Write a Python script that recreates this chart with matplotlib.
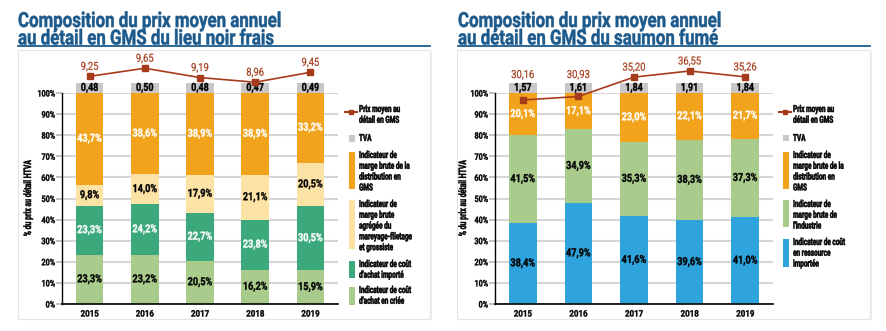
import matplotlib
matplotlib.use('Agg')
import matplotlib.pyplot as plt
from matplotlib.patches import Rectangle
from matplotlib.lines import Line2D
from matplotlib.transforms import Affine2D, blended_transform_factory
from matplotlib.patheffects import AbstractPathEffect

W, H = 887, 331

years = ['2015', '2016', '2017', '2018', '2019']

# lieu noir frais
ln_criee = [23.3, 23.2, 20.5, 16.2, 15.9]
ln_importe = [23.3, 24.2, 22.7, 23.8, 30.5]
ln_mareyage = [9.8, 14.0, 17.9, 21.1, 20.5]
ln_distrib = [43.7, 38.6, 38.9, 38.9, 33.2]
ln_tva = [0.48, 0.50, 0.48, 0.47, 0.49]
ln_prix = [9.25, 9.65, 9.19, 8.96, 9.45]

# saumon fumé
sf_ressource = [38.4, 47.9, 41.6, 39.6, 41.0]
sf_industrie = [41.5, 34.9, 35.3, 38.3, 37.3]
sf_distrib = [20.1, 17.1, 23.0, 22.1, 21.7]
sf_tva = [1.57, 1.61, 1.84, 1.91, 1.84]
sf_prix = [30.16, 30.93, 35.20, 36.55, 35.26]

ORANGE = '#F2A31C'
JAUNE = '#FDE2A6'
TEAL = '#3CA97D'
VERT = '#A9CC8D'
BLEU = '#2FA3DC'
GRIS = '#C8C8C8'
BRIQUE = '#A53B1B'
TITRE = '#1D5A8C'

plt.rcParams['font.family'] = ['Roboto', 'DejaVu Sans']


class Squeeze(AbstractPathEffect):
    """Narrow the glyphs horizontally (condensed look), optionally thickened."""

    def __init__(self, sx, anchor='left', stroke=0.0):
        super().__init__()
        self.sx = sx
        self.anchor = anchor
        self.stroke = stroke

    def draw_path(self, renderer, gc, tpath, affine, rgbFace=None):
        ext = tpath.get_extents()
        if self.anchor == 'center':
            cx = (ext.x0 + ext.x1) / 2
        elif self.anchor == 'right':
            cx = ext.x1
        else:
            cx = 0
        pre = Affine2D().translate(-cx, 0).scale(self.sx, 1).translate(cx, 0)
        if self.stroke and rgbFace is not None:
            gc0 = renderer.new_gc()
            gc0.copy_properties(gc)
            gc0.set_linewidth(self.stroke)
            gc0.set_foreground(rgbFace)
            gc0.set_joinstyle('round')
            renderer.draw_path(gc0, tpath, pre + affine, rgbFace)
            gc0.restore()
        else:
            renderer.draw_path(gc, tpath, pre + affine, rgbFace)


def sq(sx, anchor='left', stroke=0.0):
    return [Squeeze(sx, anchor, stroke)]


def fx(px):
    return px / W


def fy(py):
    return 1 - py / H


def fmt(v, pct=False):
    s = f'{v:.1f}' if pct else f'{v:.2f}'
    s = s.replace('.', ',')
    return s + '%' if pct else s


fig = plt.figure(figsize=(W / 100, H / 100), dpi=100)
fig.patch.set_facecolor('white')


def panel(x0, x1, y0, y1):
    fig.patches.append(Rectangle((fx(x0) + 0.002, fy(y1) - 0.004), fx(x1 - x0), fy(y0) - fy(y1),
                                 transform=fig.transFigure, facecolor='#EFEFEF',
                                 edgecolor='none', zorder=-2))
    fig.patches.append(Rectangle((fx(x0), fy(y1)), fx(x1 - x0), fy(y0) - fy(y1),
                                 transform=fig.transFigure, facecolor='white',
                                 edgecolor='#E4E4E4', lw=0.8, zorder=-1))


def title(x, x_end, line1, line2):
    for s, yb in ((line1, 27), (line2, 44.5)):
        fig.text(fx(x), fy(yb), s, ha='left', va='baseline', fontsize=15,
                 fontweight='bold', color=TITRE, path_effects=sq(0.81, stroke=0.35))
    fig.add_artist(Line2D([fx(x), fx(x_end)], [fy(45.5), fy(45.5)], color=TITRE, lw=1.3))


def chart(left_px, width_px, segments, tva, prix, plo, phi, ylab_x):
    ax = fig.add_axes([fx(left_px), fy(304), fx(width_px), 211 / H])
    ax.patch.set_alpha(0)
    x = list(range(len(years)))
    bottom = [0.0] * len(years)
    for vals, color, tcol in segments:
        ax.bar(x, vals, 0.5, bottom=bottom, color=color, zorder=2)
        for i, v in enumerate(vals):
            ax.text(i, min(bottom[i] + v / 2, 99), fmt(v, True), ha='center', va='center',
                    fontsize=8, fontweight='bold', color=tcol, zorder=4,
                    path_effects=sq(0.82, 'center', 0.25))
        bottom = [b + v for b, v in zip(bottom, vals)]

    # TVA band above the 100 % line
    band = 4.7
    ax.bar(x, [band] * len(x), 0.5, bottom=100, color=GRIS, zorder=2, clip_on=False)
    for i, v in enumerate(tva):
        ax.text(i, 100 + band / 2, fmt(v), ha='center', va='center', fontsize=8,
                fontweight='bold', color='black', zorder=4, clip_on=False,
                path_effects=sq(0.8, 'center', 0.25))

    ax.set_xlim(-0.5, len(years) - 0.5)
    ax.set_ylim(0, 100)
    ax.set_yticks(range(0, 101, 10))
    ax.set_yticklabels([f'{t}%' for t in range(0, 101, 10)])
    ax.set_xticks(x)
    ax.set_xticklabels(years)
    ax.grid(axis='y', color='#D6D6D6', lw=1.5, zorder=0)
    ax.set_axisbelow(True)
    for s in ('top', 'right'):
        ax.spines[s].set_visible(False)
    ax.spines['left'].set_linewidth(1.0)
    ax.spines['bottom'].set_linewidth(1.2)
    ax.tick_params(axis='y', length=4, color='#B8B8B8', width=1.2, pad=1, labelsize=6.5)
    ax.tick_params(axis='x', length=0, pad=4, labelsize=6.5)
    for lab in ax.get_yticklabels():
        lab.set_fontweight('bold')
        lab.set_path_effects(sq(0.8, 'right', 0.25))
    for lab in ax.get_xticklabels():
        lab.set_fontweight('bold')
        lab.set_path_effects(sq(0.88, 'center', 0.25))
    ax.set_ylabel('% du prix au détail HTVA', fontsize=7.5, fontweight='bold',
                  path_effects=sq(0.66, 'center', 0.3))
    ax.yaxis.set_label_coords(ylab_x, 0.5)

    # average retail price on its own scale
    ax2 = ax.twinx()
    ax2.set_ylim(plo, phi)
    ax2.axis('off')
    ax2.plot(x, prix, color=BRIQUE, lw=1.2, marker='s', ms=5, zorder=5, clip_on=False)
    tr = blended_transform_factory(ax2.transData, ax2.transAxes)
    for i, v in enumerate(prix):
        frac = (v - plo) / (phi - plo)
        yl = max(frac + 9.5 / 211, (304 - 75) / 211)
        ax2.text(i, yl, fmt(v), transform=tr, ha='center', va='center', fontsize=8,
                 color=BRIQUE, clip_on=False, path_effects=sq(0.85, 'center', 0.15))
    return ax


def legend(mx0, px0, tx, items):
    fig.add_artist(Line2D([fx(mx0), fx(mx0 + 12)], [fy(112), fy(112)], color=BRIQUE, lw=1.5))
    fig.add_artist(Line2D([fx(mx0 + 6)], [fy(112)], color=BRIQUE, marker='s', ms=3.5))
    fig.text(fx(tx), fy(104), 'Prix moyen au\ndétail en GMS', ha='left', va='top',
             fontsize=7, fontweight='bold', linespacing=1.1, path_effects=sq(0.66, stroke=0.35))
    for label, color, y0, y1, ty in items:
        fig.patches.append(Rectangle((fx(px0), fy(y1)), fx(6), fy(y0) - fy(y1),
                                     transform=fig.transFigure, facecolor=color,
                                     edgecolor='none'))
        fig.text(fx(tx), fy(ty), label, ha='left', va='top', fontsize=7,
                 fontweight='bold', linespacing=1.1, path_effects=sq(0.66, stroke=0.35))


panel(18, 430, 50, 319)
panel(457, 870, 50, 319)
title(18, 430, 'Composition du prix moyen annuel', 'au détail en GMS du lieu noir frais')
title(458, 870, 'Composition du prix moyen annuel', 'au détail en GMS du saumon fumé')

chart(62, 276,
      [(ln_criee, VERT, 'black'), (ln_importe, TEAL, 'white'),
       (ln_mareyage, JAUNE, 'black'), (ln_distrib, ORANGE, 'white')],
      ln_tva, ln_prix, -1.96, 8.43, -0.105)

chart(495, 278,
      [(sf_ressource, BLEU, 'black'), (sf_industrie, VERT, 'black'),
       (sf_distrib, ORANGE, 'white')],
      sf_tva, sf_prix, -14.8, 31.7, -0.097)

legend(345, 349, 359, [
    ('TVA', GRIS, 135, 142, 133),
    ('Indicateur de\nmarge brute de la\ndistribution en\nGMS', ORANGE, 152, 189, 150),
    ('Indicateur de\nmarge brute\nagrégée du\nmareyage-filetage\net grossiste', JAUNE, 200, 249, 199),
    ("Indicateur de coût\nd'achat importé", TEAL, 261, 278, 259),
    ("Indicateur de coût\nd'achat en criée", VERT, 287, 305, 285),
])

legend(779, 783, 793, [
    ('TVA', GRIS, 135, 141, 133),
    ('Indicateur de\nmarge brute de la\ndistribution en\nGMS', ORANGE, 152, 189, 150),
    ("Indicateur de\nmarge brute de\nl'industrie", VERT, 200, 227, 199),
    ('Indicateur de coût\nen ressource\nimportée', BLEU, 239, 267, 237),
])

fig.savefig('out.png', dpi=100, facecolor='white')
